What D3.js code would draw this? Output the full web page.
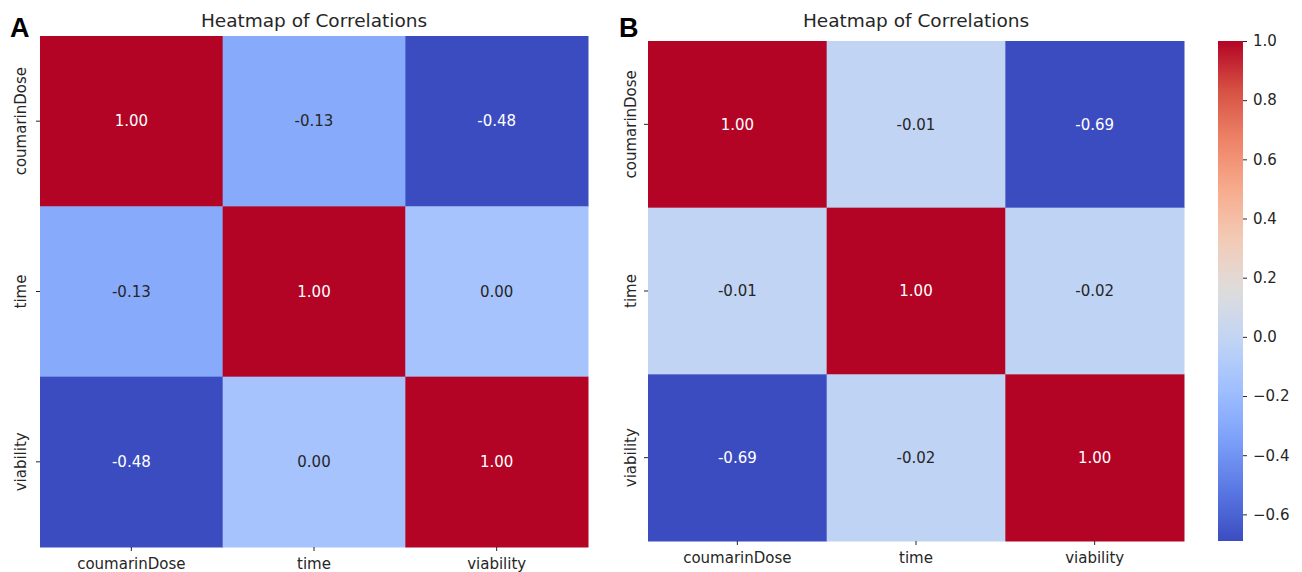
<!DOCTYPE html>
<html>
<head>
  <meta charset="utf-8">
  <script src="https://d3js.org/d3.v7.min.js"></script>
  <style>
    body { margin: 0; background: #fff; }
    text { font-family: "DejaVu Sans", sans-serif; fill: #262626; }
  </style>
</head>
<body>
  <div id="chart"></div>
  <script>
    // data
    var labels = ["coumarinDose", "time", "viability"];
    var corrA = [[1.00, -0.13, -0.48], [-0.13, 1.00, 0.00], [-0.48, 0.00, 1.00]];
    var corrB = [[1.00, -0.01, -0.69], [-0.01, 1.00, -0.02], [-0.69, -0.02, 1.00]];
    var cbarTicks = [-0.6, -0.4, -0.2, 0.0, 0.2, 0.4, 0.6, 0.8, 1.0];

    // matplotlib coolwarm, sampled at 11 even steps
    var coolwarm = d3.piecewise(d3.interpolateRgb, ["#3b4cc0", "#5977e3", "#7b9ff9", "#9ebeff", "#c0d4f5",
      "#dddcdc", "#f2cbb7", "#f7ac8e", "#ee8468", "#d65244", "#b40426"]);

    var svg = d3.select("#chart").append("svg")
      .attr("width", 1302)
      .attr("height", 572);

    function drawPanel(opts) {
      var data = opts.data;
      var flat = [];
      data.forEach(function(row, i) {
        row.forEach(function(v, j) { flat.push({ r: i, c: j, v: v }); });
      });
      var vmin = d3.min(flat, function(d) { return d.v; });
      var vmax = d3.max(flat, function(d) { return d.v; });
      var color = d3.scaleSequential(coolwarm).domain([vmin, vmax]);

      var x = d3.scaleBand().domain(labels).range([opts.x0, opts.x1]);
      var y = d3.scaleBand().domain(labels).range([opts.y0, opts.y1]);
      var g = svg.append("g");

      g.selectAll("rect.cell")
        .data(flat)
        .enter()
        .append("rect")
        .attr("class", "cell")
        .attr("x", function(d) { return x(labels[d.c]); })
        .attr("y", function(d) { return y(labels[d.r]); })
        .attr("width", x.bandwidth() + 0.5)
        .attr("height", y.bandwidth() + 0.5)
        .attr("fill", function(d) { return color(d.v); });

      // annotations, white on dark cells
      g.selectAll("text.annot")
        .data(flat)
        .enter()
        .append("text")
        .attr("class", "annot")
        .attr("x", function(d) { return x(labels[d.c]) + x.bandwidth() / 2; })
        .attr("y", function(d) { return y(labels[d.r]) + y.bandwidth() / 2; })
        .attr("dy", "0.35em")
        .attr("text-anchor", "middle")
        .style("font-size", "15px")
        .style("fill", function(d) {
          var c = d3.rgb(color(d.v));
          var lum = 0.2126 * c.r + 0.7152 * c.g + 0.0722 * c.b;
          return lum < 120 ? "#ffffff" : "#262626";
        })
        .text(function(d) { return d.v.toFixed(2); });

      // axes
      var xAxis = g.append("g")
        .attr("transform", "translate(0," + opts.y1 + ")")
        .call(d3.axisBottom(x).tickSize(4).tickPadding(7));
      var yAxis = g.append("g")
        .attr("transform", "translate(" + opts.x0 + ",0)")
        .call(d3.axisLeft(y).tickSize(4).tickPadding(7));
      [xAxis, yAxis].forEach(function(a) {
        a.select(".domain").remove();
        a.selectAll("line").attr("stroke", "#262626");
        a.selectAll("text").style("font-size", "15px").style("font-family", "DejaVu Sans").attr("fill", "#262626");
      });
      yAxis.selectAll(".tick text")
        .attr("transform", "rotate(-90)")
        .attr("text-anchor", "middle")
        .attr("x", 0)
        .attr("y", -opts.ylabOff)
        .attr("dy", "0em");

      // title
      g.append("text")
        .attr("x", (opts.x0 + opts.x1) / 2)
        .attr("y", 27)
        .attr("text-anchor", "middle")
        .style("font-size", "18.5px")
        .text("Heatmap of Correlations");

      // panel letter
      g.append("text")
        .attr("x", opts.letterX)
        .attr("y", 37)
        .style("font-family", "Liberation Sans, Arial, sans-serif")
        .style("font-size", "27px")
        .style("font-weight", "bold")
        .style("fill", "#000")
        .text(opts.letter);

      return color;
    }

    drawPanel({ data: corrA, x0: 40, x1: 588, y0: 36, y1: 547, letter: "A", letterX: 10, ylabOff: 14 });
    var colorB = drawPanel({ data: corrB, x0: 648, x1: 1184, y0: 41, y1: 541, letter: "B", letterX: 619, ylabOff: 12 });

    // colorbar for B
    var cb = { x: 1218, w: 25, y0: 41, y1: 541 };
    var cbScale = d3.scaleLinear().domain(colorB.domain()).range([cb.y1, cb.y0]);
    var grad = svg.append("defs").append("linearGradient")
      .attr("id", "cbgrad")
      .attr("x1", 0).attr("y1", 1).attr("x2", 0).attr("y2", 0);
    d3.range(0, 1.0001, 0.05).forEach(function(t) {
      grad.append("stop")
        .attr("offset", t)
        .attr("stop-color", coolwarm(t));
    });
    svg.append("rect")
      .attr("x", cb.x)
      .attr("y", cb.y0)
      .attr("width", cb.w)
      .attr("height", cb.y1 - cb.y0)
      .attr("fill", "url(#cbgrad)");

    var cbAxis = svg.append("g")
      .attr("transform", "translate(" + (cb.x + cb.w) + ",0)")
      .call(d3.axisRight(cbScale).tickValues(cbarTicks).tickSize(4).tickPadding(6)
        .tickFormat(function(d) { return d3.format(".1f")(d).replace("-", "\u2212"); }));
    cbAxis.select(".domain").remove();
    cbAxis.selectAll("line").attr("stroke", "#262626");
    cbAxis.selectAll("text").style("font-size", "15px").style("font-family", "DejaVu Sans").attr("fill", "#262626");
  </script>
</body>
</html>
